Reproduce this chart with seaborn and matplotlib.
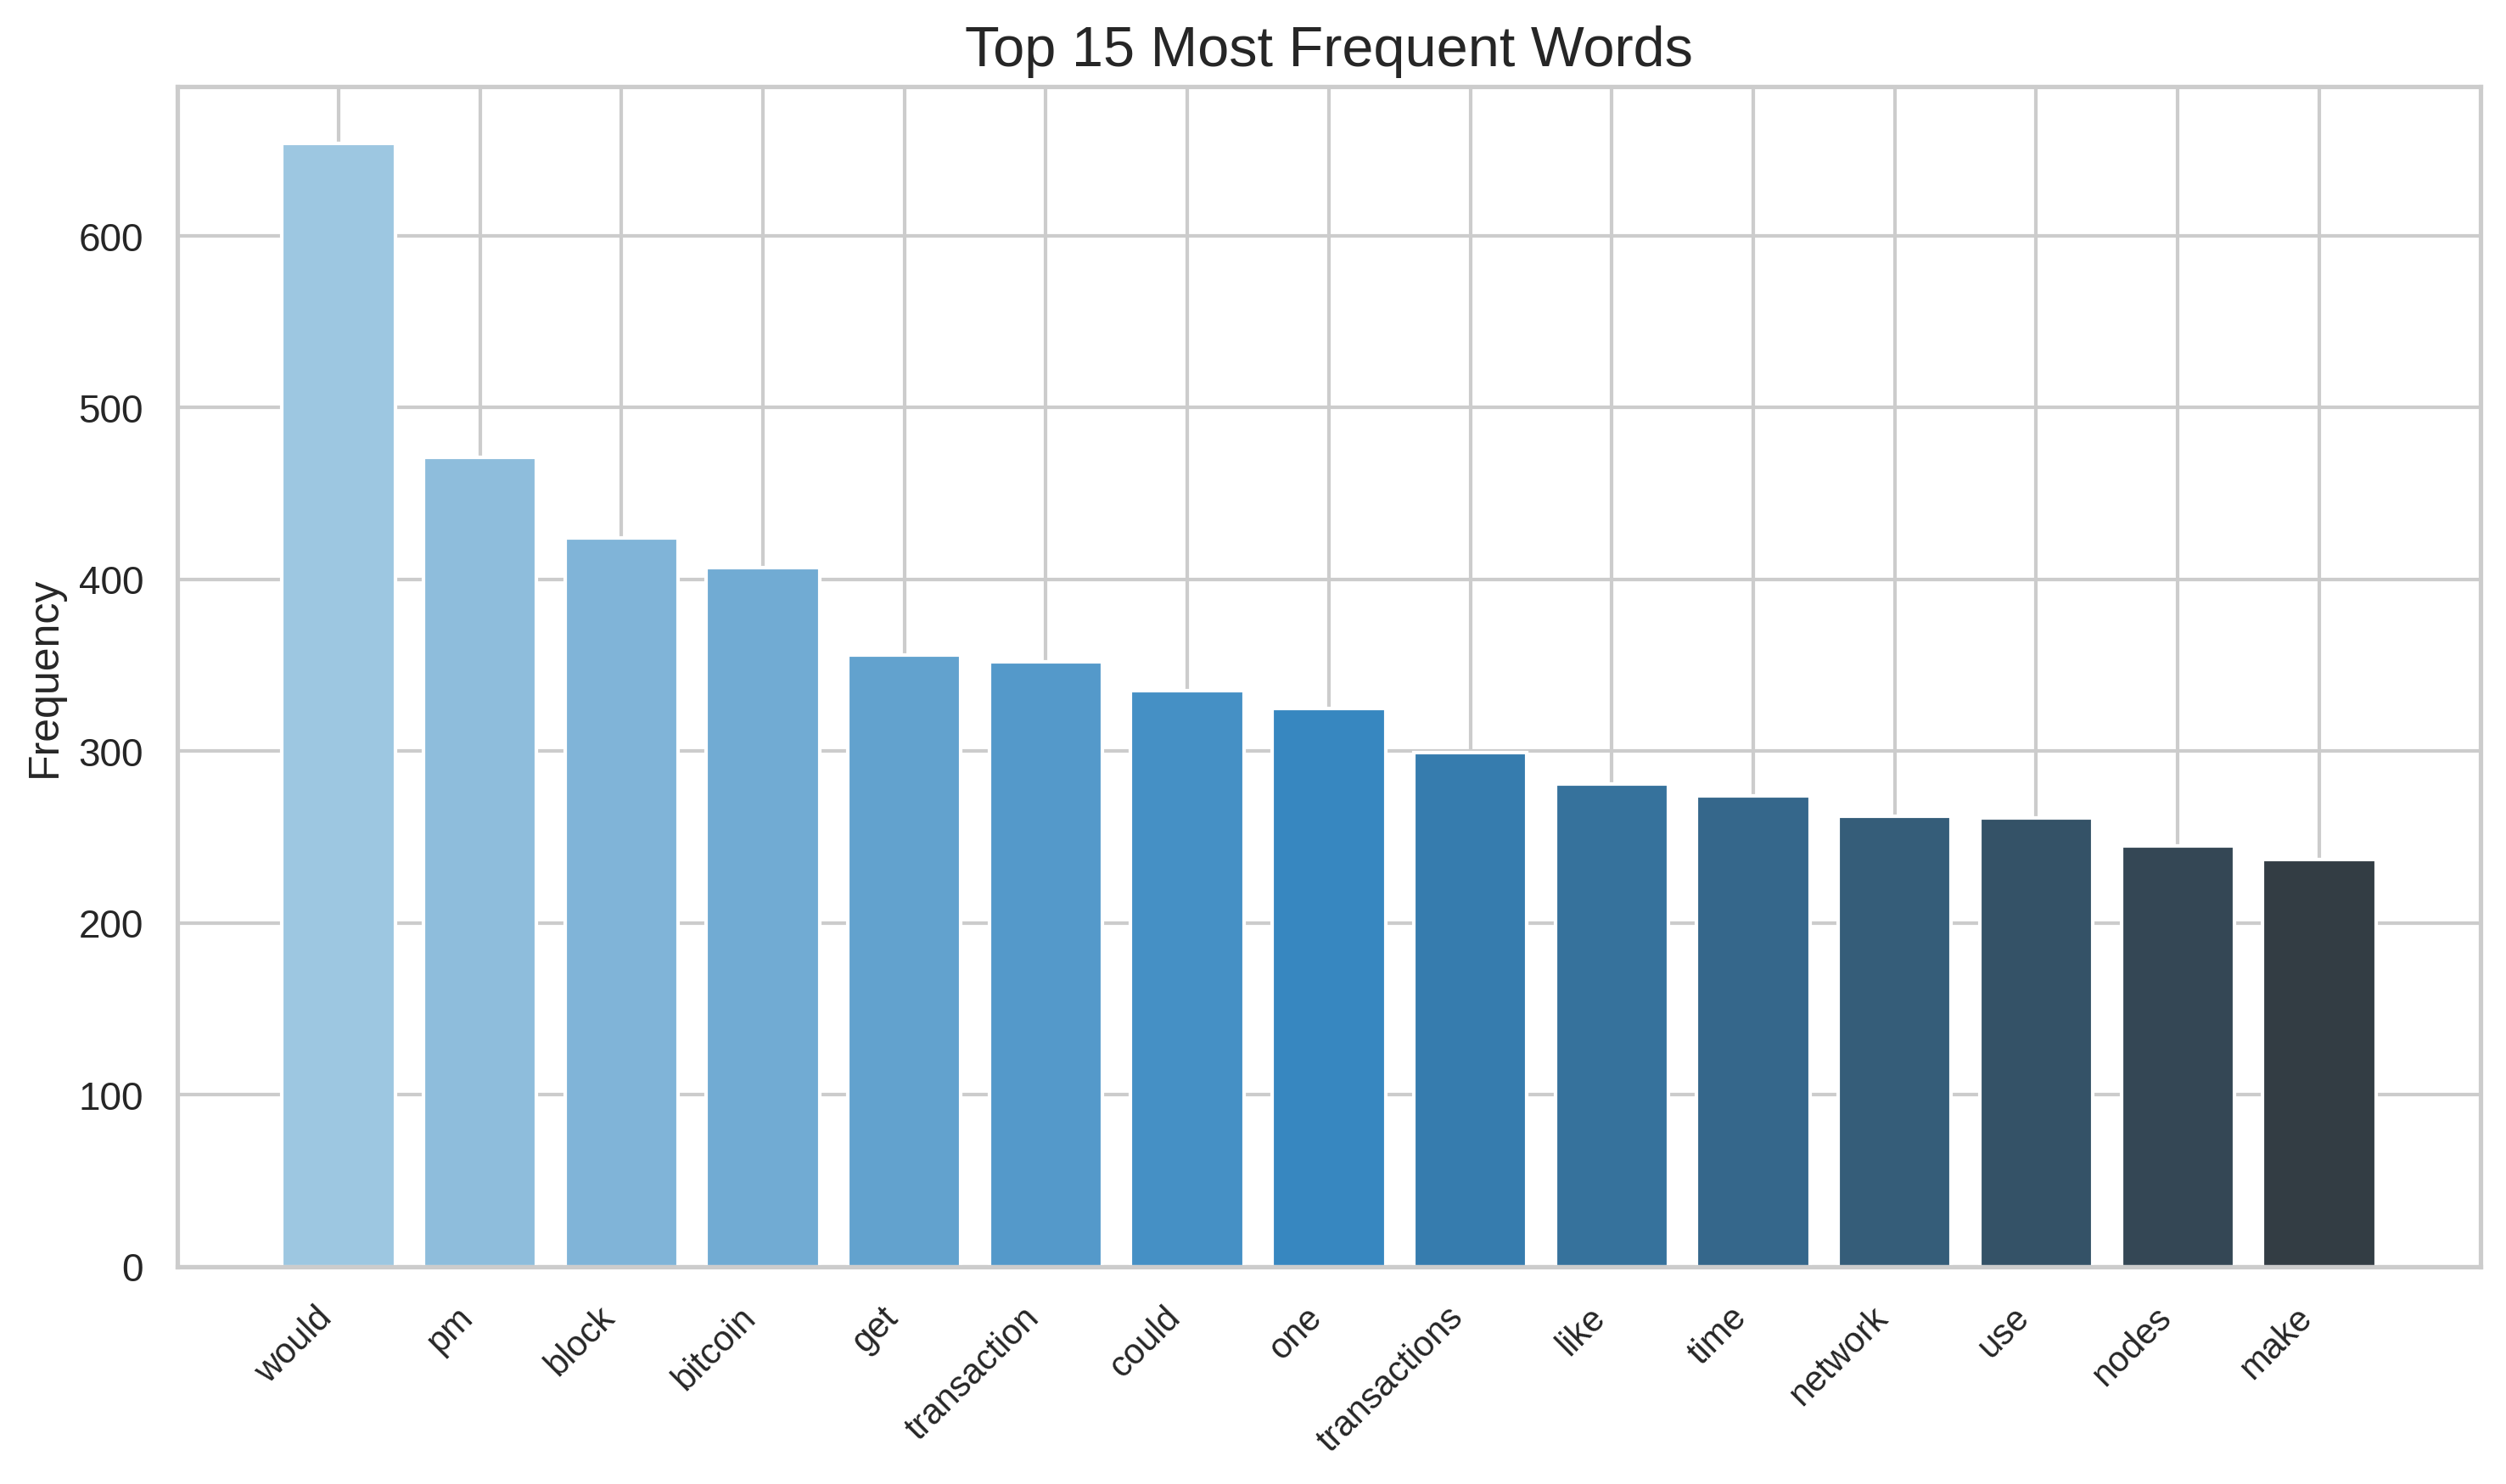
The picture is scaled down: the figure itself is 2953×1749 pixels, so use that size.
import matplotlib
matplotlib.use("Agg")
import matplotlib.pyplot as plt
import seaborn as sns

words = ["would", "pm", "block", "bitcoin", "get", "transaction", "could", "one",
         "transactions", "like", "time", "network", "use", "nodes", "make"]
counts = [654, 471, 424, 407, 356, 352, 335, 325, 299, 281, 274, 262, 261, 245, 237]

sns.set_theme(style="whitegrid")
plt.rcParams['font.family'] = ['Arial', 'Liberation Sans', 'DejaVu Sans']

colors = sns.color_palette("Blues_d", len(words))

fig, ax = plt.subplots(figsize=(10, 6))
ax.bar(words, counts, color=colors)
ax.set_title("Top 15 Most Frequent Words", fontsize=16)
ax.set_ylabel("Frequency", fontsize=12)
plt.xticks(rotation=45, ha="right", fontsize=10)
plt.yticks(fontsize=11)
plt.tight_layout()
fig.savefig("out.png", dpi=300, bbox_inches="tight")
